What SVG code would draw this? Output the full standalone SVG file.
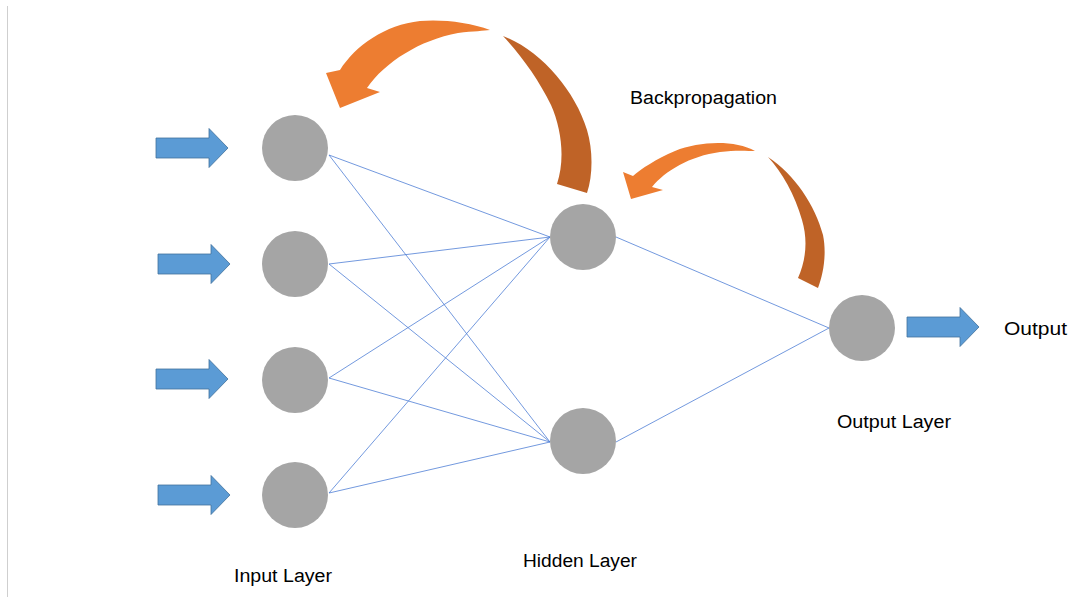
<svg xmlns="http://www.w3.org/2000/svg" xmlns:xlink="http://www.w3.org/1999/xlink" width="1073" height="597" viewBox="0 0 1073 597">
  <style>
    .node { fill: #A5A5A5; }
    .edge { stroke: #4F7FD6; stroke-width: 0.8; fill: none; }
    .flow { fill: #5B9BD5; stroke: #41719C; stroke-width: 0.8; }
    .bp-light { fill: #ED7D31; }
    .bp-dark { fill: #BF6327; }
    .label { font-family: "Liberation Sans", Arial, sans-serif; font-size: 18px; fill: #000; }
  </style>
  <defs>
    <path id="block-arrow" d="M0 -10 H53 V-19.5 L72 0 L53 19.5 V10 H0 Z"/>
  </defs>

  <rect x="0" y="0" width="1073" height="597" fill="#FFFFFF"/>
  <line x1="7.5" y1="6" x2="7.5" y2="597" stroke="#CFCFCF" stroke-width="1"/>

  <!-- weighted connections -->
  <g id="connectors">
    <line class="edge" x1="329" y1="155" x2="550" y2="237"/>
    <line class="edge" x1="329" y1="155" x2="550" y2="442"/>
    <line class="edge" x1="329" y1="264" x2="550" y2="237"/>
    <line class="edge" x1="329" y1="264" x2="550" y2="442"/>
    <line class="edge" x1="329" y1="378" x2="550" y2="237"/>
    <line class="edge" x1="329" y1="378" x2="550" y2="442"/>
    <line class="edge" x1="329" y1="493" x2="550" y2="237"/>
    <line class="edge" x1="329" y1="493" x2="550" y2="442"/>
    <line class="edge" x1="616" y1="237" x2="829" y2="328"/>
    <line class="edge" x1="616" y1="442" x2="829" y2="328"/>
  </g>

  <!-- input signals -->
  <g id="input-arrows">
    <use xlink:href="#block-arrow" class="flow" transform="translate(156,148)"/>
    <use xlink:href="#block-arrow" class="flow" transform="translate(158,264)"/>
    <use xlink:href="#block-arrow" class="flow" transform="translate(156,379)"/>
    <use xlink:href="#block-arrow" class="flow" transform="translate(158,495)"/>
  </g>

  <!-- input layer -->
  <g id="input-1"><circle class="node" cx="295" cy="148" r="33"/></g>
  <g id="input-2"><circle class="node" cx="295" cy="264" r="33"/></g>
  <g id="input-3"><circle class="node" cx="295" cy="380" r="33"/></g>
  <g id="input-4"><circle class="node" cx="295" cy="495" r="33"/></g>

  <!-- hidden layer -->
  <g id="hidden-1"><circle class="node" cx="583" cy="237" r="33"/></g>
  <g id="hidden-2"><circle class="node" cx="583" cy="441" r="33"/></g>

  <!-- output layer -->
  <g id="output-node"><circle class="node" cx="862" cy="328" r="33"/></g>
  <g id="output-arrow">
    <use xlink:href="#block-arrow" class="flow" transform="translate(907,327)"/>
  </g>

  <!-- backpropagation arrows -->
  <g id="backprop-hidden-to-input">
    <path class="bp-dark" d="M503 36 C540 50 575 90 587 130 C593 150 593 175 587 193 L557 184 C565 160 562 130 551 105 C539 80 521 55 503 36 Z"/>
    <path class="bp-light" d="M490 30 C470 22 440 19 420 21 C385 25 356 45 340 70 L326 73 L340 108 L380 92 L367 88 C385 62 420 40 458 33 C474 31 484 31 490 30 Z"/>
  </g>
  <g id="backprop-output-to-hidden">
    <path class="bp-dark" d="M768 157 C795 175 815 205 823 235 C827 255 823 275 818 288 L798 278 C806 260 808 240 802 220 C795 195 782 172 768 157 Z"/>
    <path class="bp-light" d="M755 151 C735 140 700 141 675 151 C656 159 641 169 633 176 L623 172 L631 199 L663 190 L652 187 C665 171 690 156 720 152 C735 150 748 151 755 151 Z"/>
  </g>

  <!-- labels -->
  <g id="labels">
    <text class="label" x="630" y="104" textLength="147" lengthAdjust="spacingAndGlyphs">Backpropagation</text>
    <text class="label" x="1004" y="335" textLength="63" lengthAdjust="spacingAndGlyphs">Output</text>
    <text class="label" x="837" y="428" textLength="114" lengthAdjust="spacingAndGlyphs">Output Layer</text>
    <text class="label" x="523" y="567" textLength="114" lengthAdjust="spacingAndGlyphs">Hidden Layer</text>
    <text class="label" x="234" y="582" textLength="98" lengthAdjust="spacingAndGlyphs">Input Layer</text>
  </g>
</svg>
